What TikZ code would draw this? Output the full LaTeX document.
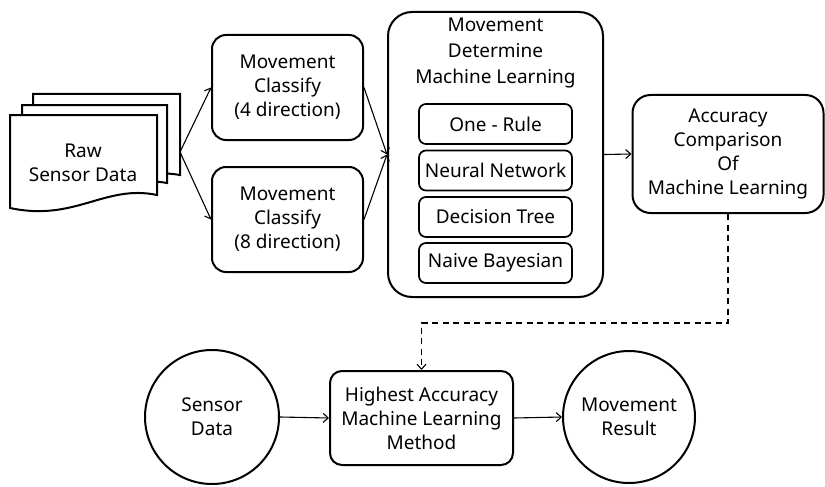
\documentclass[tikz,border=0pt]{standalone}
\usepackage{fontspec}
\setmainfont{Noto Sans}
\usetikzlibrary{arrows.meta}
\tikzset{
  x=1pt, y=-1pt,
  box/.style={draw, line width=2pt, rounded corners=14pt, align=center, inner sep=0pt},
  inbox/.style={draw, line width=1.7pt, rounded corners=7pt, align=center, inner sep=0pt, minimum width=153pt, minimum height=40pt},
  circ/.style={draw, line width=2pt, circle, align=center, inner sep=0pt},
  sheet/.style={draw, line width=2pt, fill=white},
  conn/.style={line width=1.1pt, -{Straight Barb[length=5pt,width=9pt,line width=1.1pt]}},
  dconn/.style={conn, dash pattern=on 6pt off 4.5pt},
  txt/.style={font=\fontsize{19}{24}\selectfont}
}
\begin{document}
\begin{tikzpicture}[txt]
\useasboundingbox (0,0) rectangle (825,487);
% raw sensor data stack
\draw[sheet] (33,94) -- (180,94) -- (180,175) .. controls (130,166) and (95,200) .. (33,188) -- cycle;
\draw[sheet] (22,105) -- (167,105) -- (167,183) .. controls (120,174) and (85,208) .. (22,196) -- cycle;
\draw[sheet] (10,115) -- (157,115) -- (157,195) .. controls (105,184) and (75,222) .. (10,208) -- cycle;
\node[align=center] (raw) at (83,163) {Raw\\Sensor Data};
\coordinate (rawout) at (180,152);

\node[box, minimum width=151pt, minimum height=105pt] (c4) at (287.5,87.5) {Movement\\Classify\\(4 direction)};
\node[box, minimum width=151pt, minimum height=105pt] (c8) at (287.5,219.5) {Movement\\Classify\\(8 direction)};

\node[box, rounded corners=24pt, minimum width=215pt, minimum height=285pt] (ml) at (495.5,154.5) {};
\node[align=center, font=\fontsize{19}{26}\selectfont] (mltitle) at (495.5,53) {Movement\\Determine\\Machine Learning};
\node[inbox] (or) at (495.5,124) {One - Rule};
\node[inbox] (nn) at (495.5,170.5) {Neural Network};
\node[inbox] (dt) at (495.5,217) {Decision Tree};
\node[inbox] (nb) at (495.5,263) {Naive Bayesian};

\node[box, rounded corners=18pt, minimum width=191pt, minimum height=118pt] (acc) at (728,154) {Accuracy\\Comparison\\Of\\Machine Learning};

\node[circ, minimum size=134pt] (sd) at (212,417) {Sensor\\Data};
\node[box, rounded corners=12pt, minimum width=183pt, minimum height=94pt] (hi) at (421.5,418) {Highest Accuracy\\Machine Learning\\Method};
\node[circ, minimum size=132pt] (mr) at (629,417) {Movement\\Result};

\draw[conn] (rawout) -- (c4.west);
\draw[conn] (rawout) -- (c8.west);
\draw[conn] (c4.east) -- (ml.west);
\draw[conn] (c8.east) -- (ml.west);
\draw[conn] (ml.east) -- (acc.west);
\draw[dconn] (acc.south) -- ++(0,109) -| (hi.north);
\draw[conn] (sd.east) -- (hi.west);
\draw[conn] (hi.east) -- (mr.west);
\end{tikzpicture}
\end{document}
